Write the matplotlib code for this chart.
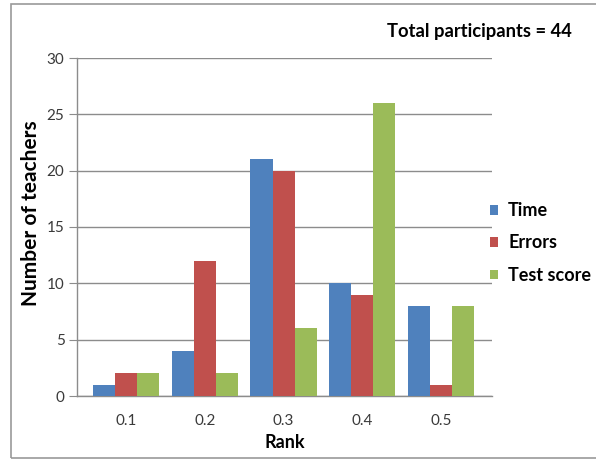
import numpy as np
import matplotlib.pyplot as plt
from matplotlib.patches import Rectangle

# data
ranks = ['0.1', '0.2', '0.3', '0.4', '0.5']
time_counts = [1, 4, 21, 10, 8]
error_counts = [2, 12, 20, 9, 1]
test_counts = [2, 2, 6, 26, 8]
series_names = ['Time', 'Errors', 'Test score']
colors = ['#4F81BD', '#C0504D', '#9BBB59']

plt.rcParams['font.family'] = ['Lato', 'DejaVu Sans']

fig = plt.figure(figsize=(5.96, 4.66), dpi=100)
ax = fig.add_axes([77 / 596, 70 / 466, 415 / 596, 338 / 466])

# outer chart frame
fig.patches.append(Rectangle((11 / 596, 8 / 466), 1.0, 454 / 466,
                             transform=fig.transFigure, fill=False,
                             edgecolor='#9a9a9a', linewidth=1.2, zorder=0))

x = np.arange(len(ranks))
w = 0.28
for i, (vals, name) in enumerate(zip([time_counts, error_counts, test_counts], series_names)):
    ax.bar(x + (i - 1) * w, vals, width=w, color=colors[i], label=name, zorder=3)

ax.set_xlim(-0.625, 4.65)
ax.set_ylim(0, 30)
ax.set_yticks(range(0, 31, 5))
ax.set_xticks(x)
ax.set_xticklabels(ranks)
ax.yaxis.grid(True, color='#8c8c8c', linewidth=1.0, zorder=0)
for s in ['top', 'right']:
    ax.spines[s].set_visible(False)
for s in ['left', 'bottom']:
    ax.spines[s].set_color('#8c8c8c')
    ax.spines[s].set_linewidth(1.0)
ax.tick_params(axis='y', length=6, color='#8c8c8c', labelsize=11, labelcolor='#3a3a3a', pad=3)
ax.tick_params(axis='x', length=0, labelsize=11, labelcolor='#3a3a3a', pad=13)

ax.set_xlabel('Rank', fontsize=13, fontweight='bold', labelpad=4)
ax.set_ylabel('Number of teachers', fontsize=15, fontweight='bold', labelpad=4)
ax.yaxis.label.set_y(0.54)

fig.text(572 / 596, 1 - 31 / 466, 'Total participants = 44', ha='right', va='center',
         fontsize=13.2, fontweight='bold')

ax.legend(loc='center left', bbox_to_anchor=(490 / 596, 1 - 243 / 466), bbox_transform=fig.transFigure,
          frameon=False, borderpad=0, borderaxespad=0, handlelength=0.45, handleheight=0.45,
          handletextpad=0.55, labelspacing=0.85, prop={'size': 13, 'weight': 'bold'})

plt.savefig('out.png', dpi=100)
